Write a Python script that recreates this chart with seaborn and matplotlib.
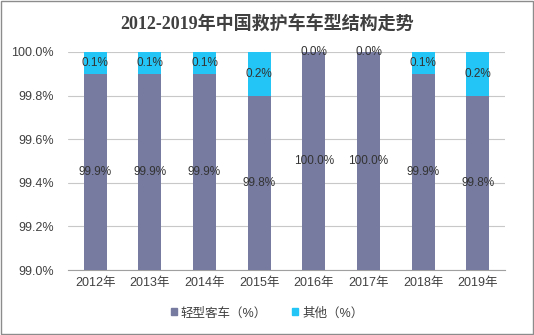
import matplotlib
matplotlib.use("Agg")
import matplotlib.pyplot as plt
import matplotlib.patches as mpatches
from matplotlib.ticker import FuncFormatter, FixedLocator
import seaborn as sns
import pandas as pd
import numpy as np

years = ["2012年", "2013年", "2014年", "2015年", "2016年", "2017年", "2018年", "2019年"]
light = [99.9, 99.9, 99.9, 99.8, 100.0, 100.0, 99.9, 99.8]
other = [0.1, 0.1, 0.1, 0.2, 0.0, 0.0, 0.1, 0.2]
series_names = ["轻型客车（%）", "其他（%）"]
title = "2012-2019年中国救护车车型结构走势"

sns.set_theme(style="white")
plt.rcParams['font.family'] = ['Liberation Sans', 'Noto Sans CJK SC', 'DejaVu Sans']

c_light = "#767B9F"
c_other = "#22C5F5"

df = pd.DataFrame({"year": years, "light": light, "other": other})
df["total"] = df["light"] + df["other"]

fig = plt.figure(figsize=(5.34, 3.35), dpi=100)
ax = fig.add_axes([0.127, 0.194, 0.819, 0.651])

sns.barplot(data=df, x="year", y="total", color=c_other, width=0.42, ax=ax,
            saturation=1, zorder=3, linewidth=0)
sns.barplot(data=df, x="year", y="light", color=c_light, width=0.42, ax=ax,
            saturation=1, zorder=3, linewidth=0)
if ax.get_legend() is not None:
    ax.get_legend().remove()

ax.set_ylim(99.0, 100.0)
ax.set_yticks(np.arange(99.0, 100.01, 0.2))
ax.yaxis.set_major_formatter(FuncFormatter(lambda v, p: f"{v:.1f}%"))
ax.grid(axis="y", color="#C8C8C8", linewidth=0.8, zorder=0)
ax.set_axisbelow(True)
for s in ["left", "right", "top"]:
    ax.spines[s].set_visible(False)
ax.spines["bottom"].set_color("#A0A0A0")
ax.spines["bottom"].set_linewidth(0.8)
ax.set_xlabel("")
ax.set_ylabel("")
ax.set_xlim(-0.5, len(years) - 0.5)
ax.tick_params(axis="y", length=0, labelsize=9, colors="#404040", pad=10)
ax.tick_params(axis="x", which="major", length=0, labelsize=9, colors="#404040", pad=5)
ax.xaxis.set_minor_locator(FixedLocator(np.arange(-0.5, len(years), 1.0)))
ax.tick_params(axis="x", which="minor", length=4, color="#A0A0A0", width=0.8)

for i, (l, o) in enumerate(zip(light, other)):
    lc = (99.0 + l) / 2
    ax.text(i, lc, f"{l:.1f}%", ha="center", va="center", fontsize=8.5, color="#333333", zorder=5)
    oc = l + o / 2 if o > 0 else 100.0
    ax.text(i, oc, f"{o:.1f}%", ha="center", va="center", fontsize=8.5, color="#333333", zorder=5)

handles = [mpatches.Patch(color=c_light, label=series_names[0]),
           mpatches.Patch(color=c_other, label=series_names[1])]
fig.legend(handles=handles, loc="center", bbox_to_anchor=(0.5, 0.065), ncol=2,
           frameon=False, fontsize=9, handlelength=0.5, handleheight=0.5,
           handletextpad=0.3, columnspacing=2.0, labelcolor="#404040")

fig.text(0.5, 0.93, title, ha="center", va="center", fontsize=13, fontweight="bold",
         color="#404040", family=['Liberation Serif', 'Noto Sans CJK SC'])

fig.patches.append(mpatches.Rectangle((0.002, 0.003), 0.996, 0.994, transform=fig.transFigure,
                                      fill=False, edgecolor="#8C8C8C", linewidth=1.0))

fig.savefig("out.png", dpi=100)
